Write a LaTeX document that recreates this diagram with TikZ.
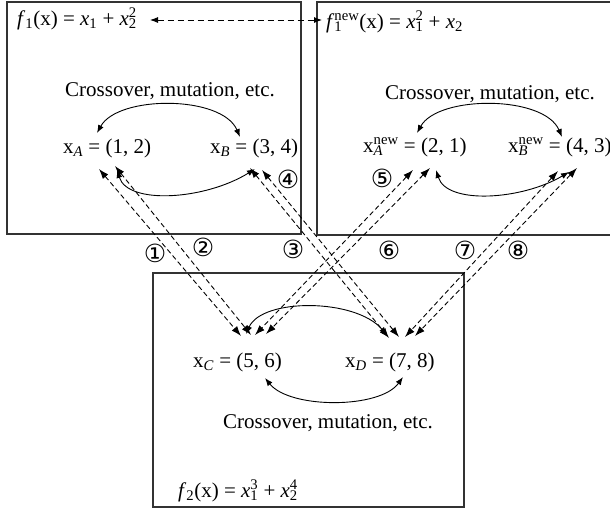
\documentclass[tikz,border=0pt]{standalone}
\usepackage{fontspec}
\setmainfont{Liberation Serif}
\newfontfamily\circfont{DejaVu Sans}
\usetikzlibrary{arrows.meta}
\newcommand{\subsup}[2]{\setbox0\hbox{\textsubscript{#1}}\setbox2\hbox{\textsuperscript{#2}}\ifdim\wd0>\wd2\relax\rlap{\box2\relax}\box0\relax\else\rlap{\box0\relax}\box2\relax\fi}
\begin{document}
\begin{tikzpicture}[x=1pt,y=-1pt,
  boxline/.style={draw=black!80, line width=1.1pt},
  lbl/.style={inner sep=0pt, anchor=base west, font=\fontsize{21}{25}\selectfont},
  circ/.style={inner sep=0pt, font=\circfont\fontsize{25}{28}\selectfont},
  link/.style={dash pattern=on 5pt off 3pt, line width=0.9pt,
     {Latex[length=10pt,width=7pt]}-{Latex[length=10pt,width=7pt]}},
  toplink/.style={dash pattern=on 6pt off 4pt, line width=0.9pt,
     {Latex[length=8pt,width=6pt]}-{Latex[length=8pt,width=6pt]}},
  cyc/.style={line width=0.9pt,
     {Latex[length=8pt,width=6pt]}-{Latex[length=8pt,width=6pt]}}]
\useasboundingbox (0,0) rectangle (610,509);

% boxes
\draw[boxline] (7,2) rectangle (301,234);
\draw[boxline] (612,2) -| (317,235) -- (612,235);
\draw[boxline] (153,273) rectangle (464,507);

% texts
\node[lbl] (f1) at (17,25) {\textit{f}\textsubscript{1}(x) = \textit{x}\textsubscript{1} + \textit{x}\subsup{2}{2}};
\node[lbl] (f1new) at (326,28) {\textit{f}\subsup{1}{new}(x) = \textit{x}\subsup{1}{2} + \textit{x}\textsubscript{2}};
\node[lbl] (cr1) at (65,96) {Crossover, mutation, etc.};
\node[lbl] (cr2) at (385,99) {Crossover, mutation, etc.};
\node[lbl] (xA) at (63,153) {x\textsubscript{\textit{A}} = (1, 2)};
\node[lbl] (xB) at (210,153) {x\textsubscript{\textit{B}} = (3, 4)};
\node[lbl] (xAn) at (363,152) {x\subsup{\textit{A}}{new} = (2, 1)};
\node[lbl] (xBn) at (508,152) {x\subsup{\textit{B}}{new} = (4, 3)};
\node[lbl] (xC) at (193,367) {x\textsubscript{\textit{C}} = (5, 6)};
\node[lbl] (xD) at (345,367) {x\textsubscript{\textit{D}} = (7, 8)};
\node[lbl] (cr3) at (223,428) {Crossover, mutation, etc.};
\node[lbl] (f2) at (178,497) {\textit{f}\textsubscript{2}(x) = \textit{x}\subsup{1}{3} + \textit{x}\subsup{2}{4}};

% circled numbers
\node[circ] (n1) at (155,253) {①};
\node[circ] (n2) at (203,247) {②};
\node[circ] (n3) at (293,249) {③};
\node[circ] (n4) at (288,179) {④};
\node[circ] (n5) at (382,178) {⑤};
\node[circ] (n6) at (389,250) {⑥};
\node[circ] (n7) at (465,250) {⑦};
\node[circ] (n8) at (518,250) {⑧};

% anchor points of connectors
\coordinate (A1) at (99,169);  \coordinate (A2) at (115,166);
\coordinate (B1) at (250,168); \coordinate (B2) at (262,170);
\coordinate (An1) at (413,170); \coordinate (An2) at (430,168);
\coordinate (Bn1) at (558,171); \coordinate (Bn2) at (577,168);
\coordinate (C1) at (241,336); \coordinate (C2) at (251,335);
\coordinate (C3) at (255,335); \coordinate (C4) at (266,334);
\coordinate (D1) at (389,338); \coordinate (D2) at (399,337);
\coordinate (D3) at (405,337); \coordinate (D4) at (415,336);
\coordinate (fL) at (150,20); \coordinate (fR) at (322,20);

\coordinate (t1a) at (97,133);  \coordinate (t1b) at (240,137);
\coordinate (u1a) at (117,170); \coordinate (u1b) at (255,169);
\coordinate (t2a) at (417,133); \coordinate (t2b) at (562,137);
\coordinate (u2a) at (436,170); \coordinate (u2b) at (569,172);
\coordinate (t3a) at (246,334); \coordinate (t3b) at (387,335);
\coordinate (u3a) at (265,378); \coordinate (u3b) at (403,377);

% dashed links
\draw[toplink] (fL) -- (fR);
\draw[link] (A1) -- (C1);
\draw[link] (A2) -- (C2);
\draw[link] (B1) -- (D1);
\draw[link] (B2) -- (D2);
\draw[link] (An1) -- (C3);
\draw[link] (An2) -- (C4);
\draw[link] (Bn1) -- (D3);
\draw[link] (Bn2) -- (D4);

% crossover cycles
\draw[cyc] (t1a) .. controls (118,95) and (222,95) .. (t1b);
\draw[cyc] (u1a) .. controls (128,205) and (205,200) .. (u1b);
\draw[cyc] (t2a) .. controls (438,95) and (544,95) .. (t2b);
\draw[cyc] (u2a) .. controls (447,205) and (522,200) .. (u2b);
\draw[cyc] (t3a) .. controls (262,298) and (355,298) .. (t3b);
\draw[cyc] (u3a) .. controls (290,409) and (380,409) .. (u3b);
\end{tikzpicture}
\end{document}
